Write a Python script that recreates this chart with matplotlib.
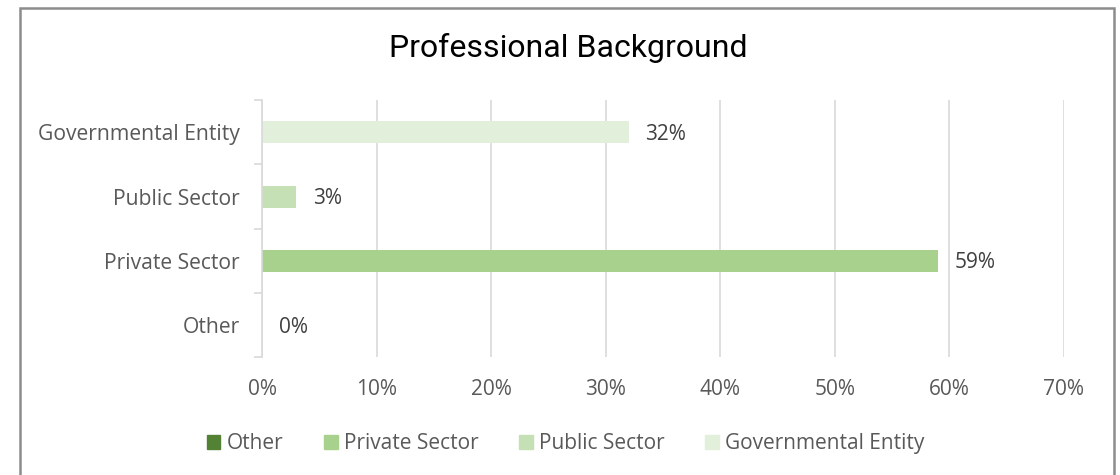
import matplotlib.pyplot as plt
import matplotlib.patches as mpatches
import numpy as np

# 数据
categories = ['Other', 'Private Sector', 'Public Sector', 'Governmental Entity']
values = [0, 59, 3, 32]
colors = ['#548235', '#a9d18e', '#c5e0b4', '#e2efda']
xticks = [0, 10, 20, 30, 40, 50, 60, 70]

plt.rcParams['font.family'] = ['Open Sans', 'DejaVu Sans']
text_color = '#595959'

fig = plt.figure(figsize=(11.2, 4.75), dpi=100)
ax = fig.add_axes([0.234, 0.248, 0.716, 0.541])

y = np.arange(len(categories))
bars = ax.barh(y, values, height=0.34, color=colors, zorder=3)

# 数据标签
for yi, v in zip(y, values):
    ax.annotate(f'{v}%', xy=(v, yi), xytext=(12, -1.5), textcoords='offset points',
                ha='left', va='center', fontsize=15, color='#404040')

ax.set_xlim(0, 70)
ax.set_ylim(-0.5, len(categories) - 0.5)
ax.set_xticks(xticks)
ax.set_xticklabels([f'{t}%' for t in xticks], fontsize=15, color=text_color)
ax.set_yticks(y)
ax.set_yticklabels(categories, fontsize=15.2, color=text_color)
ax.set_yticks(np.arange(-0.5, len(categories), 1), minor=True)

ax.tick_params(axis='x', length=0, pad=16)
ax.tick_params(axis='y', which='major', length=0, pad=16)
ax.tick_params(axis='y', which='minor', length=6, color='#d9d9d9', width=1.2)

ax.grid(axis='x', color='#d9d9d9', linewidth=1.2, zorder=0)
for s in ['top', 'right', 'bottom']:
    ax.spines[s].set_visible(False)
ax.spines['left'].set_color('#d9d9d9')
ax.spines['left'].set_linewidth(1.2)
ax.spines['left'].set_zorder(4)

# 标题
fig.text(0.507, 0.898, 'Professional Background', ha='center', va='center',
         fontsize=23, color='black', family=['Roboto', 'DejaVu Sans'])

# 图例
handles = [mpatches.Patch(color=c, label=l) for c, l in zip(colors, categories)]
fig.legend(handles=handles, loc='center', bbox_to_anchor=(0.505, 0.066), ncol=4,
           frameon=False, fontsize=15, handlelength=0.65, handleheight=0.65,
           handletextpad=0.3, columnspacing=1.95, labelcolor=text_color)

# 边框
border = mpatches.Rectangle((20 / 1120, -0.1), (1114 - 20) / 1120, 1.1 - 8 / 475,
                            transform=fig.transFigure, fill=False,
                            edgecolor='#8c8c8c', linewidth=1.8)
fig.patches.append(border)

fig.savefig('out.png', dpi=100)
